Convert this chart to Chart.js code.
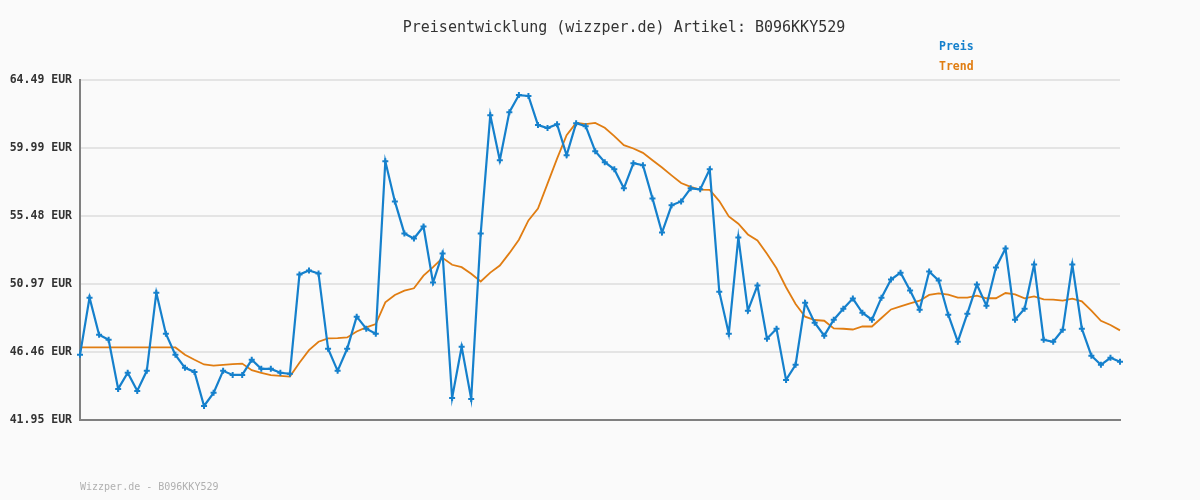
<!DOCTYPE html>
<html>
<head>
<meta charset="utf-8">
<script src="https://cdn.jsdelivr.net/npm/chart.js@4"></script>
<style>
html,body{margin:0;padding:0;background:#fafafa;}
#wrap{width:1200px;height:500px;position:relative;}
</style>
</head>
<body>
<div id="wrap"><canvas id="c" width="1200" height="500"></canvas></div>
<script>
const titleText = "Preisentwicklung (wizzper.de) Artikel: B096KKY529";
const footerText = "Wizzper.de - B096KKY529";
const yTicks = [41.95, 46.46, 50.97, 55.48, 59.99, 64.49];
const preis = [46.27,50.06,47.60,47.27,44.01,45.08,43.88,45.21,50.39,47.67,
46.27,45.41,45.14,42.88,43.75,45.21,44.94,44.94,45.94,45.34,
45.34,45.08,45.01,51.59,51.86,51.66,46.67,45.21,46.67,48.80,
48.00,47.67,59.10,56.44,54.32,53.98,54.78,51.06,52.99,43.41,
46.80,43.35,54.32,62.16,59.17,62.36,63.49,63.43,61.50,61.30,
61.56,59.50,61.63,61.43,59.77,59.04,58.57,57.31,58.97,58.84,
56.64,54.38,56.18,56.44,57.31,57.24,58.57,50.46,47.67,54.05,
49.20,50.86,47.34,48.00,44.61,45.61,49.73,48.40,47.54,48.60,
49.33,50.00,49.06,48.60,50.06,51.26,51.72,50.53,49.26,51.79,
51.19,48.93,47.14,49.00,50.93,49.53,52.06,53.32,48.60,49.33,
52.26,47.27,47.14,47.93,52.26,48.00,46.21,45.61,46.07,45.81];
const trend = [46.76,46.76,46.76,46.76,46.76,46.76,46.76,46.76,46.76,46.76,
46.76,46.27,45.94,45.63,45.56,45.61,45.65,45.69,45.25,45.08,
44.92,44.88,44.83,45.74,46.58,47.14,47.36,47.38,47.42,47.82,
48.09,48.31,49.75,50.24,50.53,50.68,51.52,52.08,52.70,52.24,
52.08,51.64,51.13,51.72,52.19,53.01,53.90,55.18,55.96,57.62,
59.28,60.83,61.65,61.56,61.65,61.32,60.77,60.17,59.95,59.66,
59.17,58.69,58.17,57.66,57.40,57.22,57.20,56.46,55.45,54.96,
54.25,53.85,52.97,52.01,50.75,49.64,48.80,48.58,48.53,48.02,
48.00,47.95,48.15,48.15,48.71,49.28,49.48,49.68,49.86,50.24,
50.35,50.26,50.06,50.06,50.19,50.02,50.02,50.37,50.28,50.02,
50.15,49.95,49.93,49.86,50.00,49.82,49.20,48.53,48.25,47.89];
const labels = preis.map((_, i) => String(i + 1));

const BLUE = '#1580cc';
const ORANGE = '#e07d12';
const MONO = '"DejaVu Sans Mono", "Liberation Mono", monospace';

const decor = {
  id: 'decor',
  beforeDraw(chart) {
    const ctx = chart.ctx;
    ctx.save();
    ctx.fillStyle = '#fafafa';
    ctx.fillRect(0, 0, chart.width, chart.height);
    ctx.restore();
  },
  afterDraw(chart) {
    const ctx = chart.ctx;
    ctx.save();
    ctx.textBaseline = 'middle';
    ctx.textAlign = 'center';
    ctx.fillStyle = '#333';
    ctx.font = '15px ' + MONO;
    ctx.fillText(titleText, 624, 28);
    ctx.textAlign = 'left';
    ctx.font = 'bold 11.5px ' + MONO;
    chart.data.datasets.forEach((ds, i) => {
      ctx.fillStyle = ds.borderColor;
      ctx.fillText(ds.label, 939, 47 + i * 20);
    });
    ctx.fillStyle = '#b0b0b0';
    ctx.font = '10px ' + MONO;
    ctx.fillText(footerText, 80, 487);
    ctx.restore();
  }
};

new Chart(document.getElementById('c'), {
  type: 'line',
  data: {
    labels: labels,
    datasets: [
      {label: 'Preis', data: preis, borderColor: BLUE, backgroundColor: BLUE,
       borderWidth: 2.2, tension: 0, pointStyle: 'cross', pointRadius: 3,
       pointBorderWidth: 2, pointBorderColor: BLUE, order: 1},
      {label: 'Trend', data: trend, borderColor: ORANGE, backgroundColor: ORANGE,
       borderWidth: 1.8, tension: 0, pointRadius: 0, order: 2}
    ]
  },
  options: {
    responsive: false,
    animation: false,
    layout: {padding: {top: 80, bottom: 80, right: 80, left: 0}},
    plugins: {legend: {display: false}, title: {display: false}, tooltip: {enabled: false}},
    scales: {
      x: {
        offset: false,
        ticks: {display: false},
        grid: {display: false, drawTicks: false},
        border: {display: true, color: '#808080', width: 2}
      },
      y: {
        min: yTicks[0], max: yTicks[yTicks.length - 1],
        afterBuildTicks(scale) { scale.ticks = yTicks.map(v => ({value: v})); },
        afterFit(scale) { scale.width = 80; },
        ticks: {
          padding: 8,
          color: '#333',
          font: {family: MONO, size: 11.5, weight: 'bold'},
          callback: v => Number(v).toFixed(2) + ' EUR'
        },
        grid: {color: '#e4e4e4', lineWidth: 2, drawTicks: false},
        border: {display: true, color: '#808080', width: 2}
      }
    }
  },
  plugins: [decor]
});
</script>
</body>
</html>
